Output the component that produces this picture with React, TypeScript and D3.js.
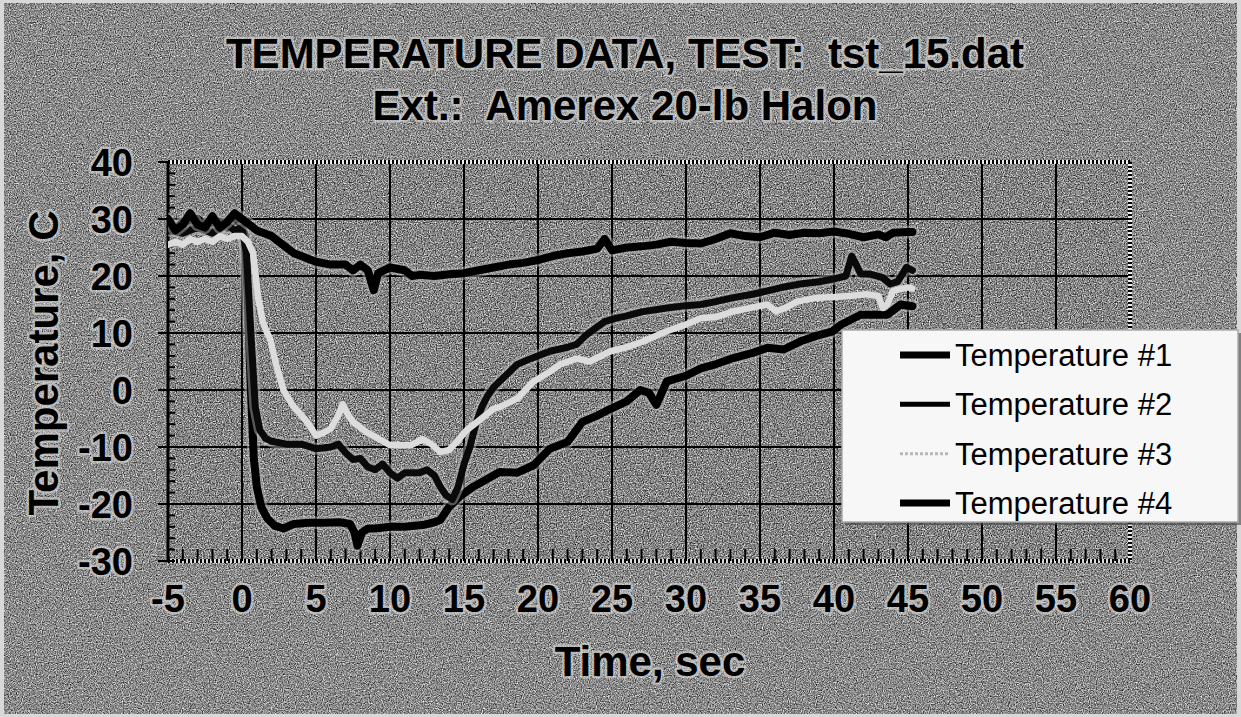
import React from "react";
import * as d3 from "d3";

const W = 1241;
const H = 717;

const titleLines = ["TEMPERATURE DATA, TEST:  tst_15.dat", "Ext.:  Amerex 20-lb Halon"];
const xTitle = "Time, sec";
const yTitle = "Temperature, C";
const xTicks = [-5, 0, 5, 10, 15, 20, 25, 30, 35, 40, 45, 50, 55, 60];
const yTicks = [40, 30, 20, 10, 0, -10, -20, -30];
const seriesNames = ["Temperature #1", "Temperature #2", "Temperature #3", "Temperature #4"];

const t1 = [-5, -4.5, -4, -3.5, -3, -2.5, -2, -1.5, -1, -0.5, 0, 0.5, 1, 2, 3, 3.5, 4, 5, 6, 7, 7.5, 8, 8.5, 8.9, 9.2, 10, 11, 11.5, 12, 13, 14, 15, 16, 17, 18, 19, 20, 21, 22, 23, 24, 24.5, 25, 26, 27, 28, 29, 30, 31, 32, 33, 34, 35, 36, 37, 38, 39, 40, 41, 42, 43, 43.5, 44, 45, 45.3];
const v1 = [30, 28, 29, 31, 29, 28.5, 30.5, 28.5, 29.5, 31, 30, 29, 28, 27, 25, 24, 23.5, 22.5, 22, 22, 21, 22, 21, 17.5, 20.5, 21.5, 21, 20, 20.2, 20, 20.3, 20.5, 21, 21.5, 22, 22.3, 22.8, 23.5, 24, 24.3, 24.8, 26.5, 24.5, 25, 25.2, 25.5, 26, 25.8, 25.7, 26.5, 27.5, 27, 26.8, 27.6, 27.2, 27.6, 27.5, 27.8, 27.4, 26.8, 27.3, 26.8, 27.6, 27.7, 27.7];

const t2 = [-5, -4, -3, -2, -1, -0.5, 0, 0.3, 0.6, 0.9, 1.2, 1.6, 2, 3, 4, 5, 6, 6.5, 7, 7.5, 8, 8.5, 9, 9.5, 10, 10.5, 11, 12, 12.5, 13, 13.4, 13.8, 14.2, 14.6, 15, 15.4, 15.8, 16.2, 16.6, 17, 17.4, 18, 18.6, 19.5, 20.8, 22, 22.6, 23.2, 23.7, 24.5, 25.3, 26, 27, 28.7, 30, 31, 32, 33.2, 34.5, 35.5, 36.5, 37.7, 39, 40, 40.8, 41.2, 41.5, 41.8, 42.5, 43.3, 43.8, 44.3, 44.9, 45.3];
const v2 = [28, 27.5, 28.5, 27.5, 29, 28, 28.5, 24, 10, -3, -7, -8.5, -9, -9.5, -9.5, -10.3, -10, -9.5, -11, -12.2, -12, -13.5, -14, -13, -14.5, -15.5, -14.5, -14.5, -14, -15, -17, -18.5, -19.2, -17, -13, -10, -6, -3, -1, 0.5, 1.5, 3, 4.5, 5.5, 6.8, 7.5, 8, 9.5, 10.5, 12, 12.6, 13, 13.7, 14.4, 14.8, 15, 15.5, 16.2, 16.8, 17.4, 18, 18.6, 19, 19.5, 20, 23.5, 22, 20.4, 20.3, 19.7, 18.6, 19, 21.5, 21];

const t3 = [-5, -4.5, -4, -3.5, -3, -2.5, -2, -1.5, -1, -0.5, 0, 0.4, 0.75, 1.1, 1.4, 1.7, 1.9, 2.3, 2.8, 3.4, 4.4, 5, 5.5, 6, 6.5, 6.8, 7.2, 7.5, 8.4, 9.2, 10, 11.4, 12.2, 12.8, 13.4, 14, 14.5, 15.2, 15.9, 17, 17.4, 18.6, 19.7, 20.8, 21.5, 22.6, 23.5, 24.9, 26, 27.1, 28.7, 30, 31, 32, 33.2, 34.5, 35.5, 36.1, 36.8, 37.5, 38.9, 40, 41, 42.2, 43, 43.3, 43.6, 44, 45, 45.3];
const v3 = [25.5, 26, 25.5, 26.5, 26, 26.5, 26, 27, 26.5, 27, 27, 26, 24, 16, 12, 10, 9, 4.5, 0, -2.6, -5.6, -8, -7.5, -6.8, -4.5, -2.5, -4.5, -5.6, -7.4, -8.5, -9.7, -9.7, -8.6, -9.5, -10.9, -10.5, -9.1, -7, -5.6, -3.3, -3, -1.5, 1.5, 3.2, 4.5, 5.5, 5, 6.8, 7.5, 8.5, 10.3, 11.5, 12.6, 12.8, 13.8, 14.5, 15, 13.8, 14.5, 15.5, 16.2, 16.3, 16.5, 16.8, 16.5, 14.4, 15, 17.4, 18, 17.8];

const t4 = [-5, -4.5, -4, -3.5, -3, -2.5, -2, -1.5, -1, -0.5, 0, 0.2, 0.4, 0.6, 0.8, 1.0, 1.3, 1.7, 2.2, 2.8, 3.5, 4.5, 5.5, 6.6, 7.3, 7.6, 7.8, 8.1, 8.5, 9, 10, 11, 12.2, 13, 13.4, 14, 14.7, 15.6, 16.3, 17.4, 18.6, 19.7, 20.8, 22, 23, 24, 24.9, 26, 26.9, 27.5, 28, 28.7, 30, 31, 32, 33.2, 34.5, 35.5, 36.6, 37.7, 38.8, 39.9, 40.5, 41.8, 43.6, 44.5, 45.3];
const v4 = [29, 28, 29.5, 28.5, 30, 29, 28, 29.5, 28.5, 30, 29, 27, 15, 0, -12, -17, -20.5, -22.5, -23.8, -24.3, -23.5, -23.3, -23.3, -23.2, -23.5, -25, -27.3, -25, -24.3, -24.3, -24, -24, -23.7, -23.2, -22.8, -20.5, -18.7, -17, -16, -14.4, -14.5, -13.2, -10.3, -9.1, -5.6, -4.5, -3.3, -2, 0, -0.5, -2.6, 1.5, 2.5, 3.8, 4.5, 5.6, 6.5, 7.4, 7.1, 8.5, 9.5, 10.3, 11.5, 13.2, 13.2, 15, 14.7];

const seriesT = [t1, t2, t3, t4];
const seriesV = [v1, v2, v3, v4];
const seriesColor = ["#000000", "#0a0a0a", "#dcdcdc", "#000000"];
const seriesWidth = [8, 7, 6.5, 8];

const plot = { left: 168, right: 1130, top: 162, bottom: 561 };

function NoiseFilter({ id, seed, slope, intercept }: { id: string; seed: number; slope: number; intercept: number }) {
  return (
    <filter
      id={id}
      x="0"
      y="0"
      width="100%"
      height="100%"
      colorInterpolationFilters="sRGB"
    >
      <feTurbulence type="fractalNoise" baseFrequency="0.85" numOctaves="2" seed={seed} result="t" />
      <feColorMatrix in="t" type="saturate" values="0" result="g" />
      <feComponentTransfer in="g">
        <feFuncR type="linear" slope={slope} intercept={intercept} />
        <feFuncG type="linear" slope={slope} intercept={intercept} />
        <feFuncB type="linear" slope={slope} intercept={intercept} />
        <feFuncA type="linear" slope="0" intercept="1" />
      </feComponentTransfer>
    </filter>
  );
}

export default function App() {
  const x = d3.scaleLinear().domain([-5, 60]).range([plot.left, plot.right]);
  const y = d3.scaleLinear().domain([-30, 40]).range([plot.bottom, plot.top]);
  const line = d3
    .line<[number, number]>()
    .x((d) => x(d[0]))
    .y((d) => y(d[1]));

  const minorX = d3.range(-5, 60, 1);
  const minorY = d3.range(-30, 40, 2);
  const halo = {
    stroke: "rgba(215,215,215,0.6)",
    strokeWidth: 5,
    paintOrder: "stroke" as const,
    strokeLinejoin: "round" as const,
  };
  const boldFont = "'Liberation Sans', Arial, sans-serif";

  const legendRows = seriesNames.map((n, i) => ({ n, i }));
  const legY = d3.scalePoint<number>().domain([0, 1, 2, 3]).range([355, 503]);

  return (
    <svg
      width={W}
      height={H}
      viewBox={`0 0 ${W} ${H}`}
      style={{ position: "absolute", left: 0, top: 0, display: "block" }}
    >
      <defs>
        <NoiseFilter id="noiseOuter" seed={4} slope={1.6} intercept={-0.26} />
        <NoiseFilter id="noisePlot" seed={9} slope={1.7} intercept={-0.33} />
        <clipPath id="plotClip">
          <rect x={plot.left} y={plot.top - 5} width={plot.right - plot.left} height={plot.bottom - plot.top + 10} />
        </clipPath>
      </defs>

      {/* outer background */}
      <rect x={0} y={0} width={W} height={H} fill="#d8d8d8" />
      <rect x={4} y={3} width={W - 8} height={H - 6} fill="#888" filter="url(#noiseOuter)" />

      {/* plot area */}
      <rect
        x={plot.left}
        y={plot.top}
        width={plot.right - plot.left}
        height={plot.bottom - plot.top}
        fill="#808080"
        filter="url(#noisePlot)"
      />

      {/* gridlines */}
      {yTicks
        .filter((v) => v !== 40 && v !== -30)
        .map((v) => (
          <line key={"gy" + v} x1={plot.left} x2={plot.right} y1={y(v)} y2={y(v)} stroke="#000" strokeWidth={2} />
        ))}
      {xTicks
        .filter((v) => v !== -5 && v !== 60)
        .map((v) => (
          <line key={"gx" + v} x1={x(v)} x2={x(v)} y1={plot.top} y2={plot.bottom} stroke="#000" strokeWidth={2} />
        ))}

      {/* top & right dotted border */}
      <line x1={plot.left} x2={plot.right} y1={plot.top} y2={plot.top} stroke="#eee" strokeWidth={4} />
      <line x1={plot.left} x2={plot.right} y1={plot.top} y2={plot.top} stroke="#000" strokeWidth={4} strokeDasharray="2 2" />
      <line x1={plot.right} x2={plot.right} y1={plot.top} y2={plot.bottom} stroke="#eee" strokeWidth={4} />
      <line x1={plot.right} x2={plot.right} y1={plot.top} y2={plot.bottom} stroke="#000" strokeWidth={4} strokeDasharray="2 2" />

      {/* axes */}
      <line x1={plot.left} x2={plot.left} y1={plot.top} y2={plot.bottom} stroke="#000" strokeWidth={3} />
      <line x1={plot.left} x2={plot.right} y1={plot.bottom} y2={plot.bottom} stroke="#ddd" strokeWidth={4} />
      <line x1={plot.left} x2={plot.right} y1={plot.bottom} y2={plot.bottom} stroke="#000" strokeWidth={4} strokeDasharray="2 2" />
      {minorY.map((v) => (
        <line key={"my" + v} x1={plot.left} x2={plot.left + 7} y1={y(v)} y2={y(v)} stroke="#000" strokeWidth={2} />
      ))}
      {yTicks.map((v) => (
        <line key={"ty" + v} x1={plot.left - 10} x2={plot.left} y1={y(v)} y2={y(v)} stroke="#000" strokeWidth={2} />
      ))}
      {minorX.map((v) => (
        <line key={"mx" + v} x1={x(v)} x2={x(v)} y1={plot.bottom} y2={plot.bottom - 12} stroke="#000" strokeWidth={2} />
      ))}

      {/* data lines */}
      <g clipPath="url(#plotClip)">
        {[3, 1, 2, 0].map((i) => {
          const pts = seriesT[i].map((t, k) => [t, seriesV[i][k]] as [number, number]);
          return (
            <g key={"s" + i}>
              {i !== 2 && (
                <path
                  d={line(pts) || ""}
                  fill="none"
                  stroke="rgba(190,190,190,0.45)"
                  strokeWidth={seriesWidth[i] + 5}
                  strokeLinejoin="round"
                  strokeLinecap="round"
                />
              )}
              <path
                d={line(pts) || ""}
                fill="none"
                stroke={seriesColor[i]}
                strokeWidth={seriesWidth[i]}
                strokeLinejoin="round"
                strokeLinecap="round"
              />
            </g>
          );
        })}
      </g>

      {/* y tick labels */}
      {yTicks.map((v) => (
        <text
          key={"ly" + v}
          x={133}
          y={y(v)}
          dy="0.36em"
          textAnchor="end"
          fontFamily={boldFont}
          fontWeight="bold"
          fontSize={38}
          fill="#000"
          {...halo}
        >
          {v}
        </text>
      ))}

      {/* x tick labels */}
      {xTicks.map((v) => (
        <text
          key={"lx" + v}
          x={x(v)}
          y={612}
          textAnchor="middle"
          fontFamily={boldFont}
          fontWeight="bold"
          fontSize={38}
          fill="#000"
          {...halo}
        >
          {v}
        </text>
      ))}

      {/* titles */}
      {titleLines.map((s, i) => (
        <text
          key={"t" + i}
          x={625}
          y={68 + i * 52}
          textAnchor="middle"
          fontFamily={boldFont}
          fontWeight="bold"
          fontSize={42}
          fill="#000"
          {...halo}
          style={{ whiteSpace: "pre" }}
        >
          {s}
        </text>
      ))}
      <text
        x={650}
        y={676}
        textAnchor="middle"
        fontFamily={boldFont}
        fontWeight="bold"
        fontSize={42}
        fill="#000"
        {...halo}
      >
        {xTitle}
      </text>
      <text
        transform={`translate(58, ${363}) rotate(-90)`}
        textAnchor="middle"
        fontFamily={boldFont}
        fontWeight="bold"
        fontSize={42}
        fill="#000"
        {...halo}
      >
        {yTitle}
      </text>

      {/* legend */}
      <rect x={845} y={333} width={396} height={192} fill="#444" opacity={0.6} />
      <rect x={842} y={330} width={396} height={192} fill="#f7f7f7" stroke="#aaa" strokeWidth={1.5} />
      {legendRows.map(({ n, i }) => (
        <g key={"lg" + i}>
          <line
            x1={900}
            x2={950}
            y1={legY(i)!}
            y2={legY(i)!}
            stroke={i === 2 ? "#b8b8b8" : "#000"}
            strokeWidth={i === 2 ? 3 : i === 1 ? 5 : 7}
            strokeDasharray={i === 2 ? "3 2" : undefined}
          />
          <text
            x={955}
            y={legY(i)!}
            dy="0.36em"
            fontFamily="'Liberation Sans', Arial, sans-serif"
            fontSize={31}
            fill="#000"
          >
            {n}
          </text>
        </g>
      ))}
    </svg>
  );
}
